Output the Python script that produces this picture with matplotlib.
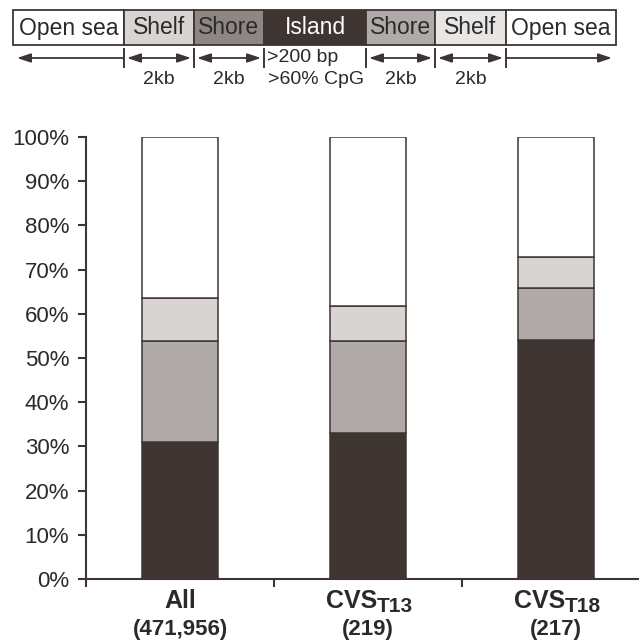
import matplotlib
matplotlib.use('Agg')
import matplotlib.pyplot as plt
import matplotlib.transforms as mtransforms
from matplotlib.patches import Rectangle, FancyArrowPatch

plt.rcParams['font.family'] = ['Liberation Sans', 'DejaVu Sans']

# stacked shares (%) per group, bottom to top
categories = ['All', 'CVS', 'CVS']
subscripts = ['', 'T13', 'T18']
counts = ['(471,956)', '(219)', '(217)']
island = [31.0, 33.0, 54.0]
shore = [22.8, 20.8, 11.8]
shelf = [9.8, 8.0, 7.0]
open_sea = [36.4, 38.2, 27.2]
yticks = [0, 10, 20, 30, 40, 50, 60, 70, 80, 90, 100]

# schematic of regions around a CpG island
regions = ['Open sea', 'Shelf', 'Shore', 'Island', 'Shore', 'Shelf', 'Open sea']
region_colors = ['#FFFFFF', '#D8D4D1', '#8E8682', '#3E3532', '#B0ABA8', '#E8E6E4', '#FFFFFF']

DARK = '#3E3532'
W, H = 639, 640

fig = plt.figure(figsize=(W / 100, H / 100), dpi=100)

# --- top diagram, drawn in pixel coordinates ---
top = fig.add_axes([0, 0, 1, 1])
top.set_xlim(0, W)
top.set_ylim(H, 0)
top.axis('off')

edges = [13, 124, 194, 264, 366, 435, 506, 616]
for i, name in enumerate(regions):
    x0, x1 = edges[i], edges[i + 1]
    top.add_patch(Rectangle((x0, 10), x1 - x0, 35, facecolor=region_colors[i],
                            edgecolor=DARK, lw=1.3))
    tc = 'white' if name == 'Island' else '#2a2a2a'
    top.text((x0 + x1) / 2, 28, name, ha='center', va='center', fontsize=16.5, color=tc)

ya = 58
for x in [124, 194, 264, 366, 435, 506]:
    top.plot([x, x], [49, 67], color=DARK, lw=1.4)

def arrow(x0, x1, style):
    top.add_patch(FancyArrowPatch((x0, ya), (x1, ya), arrowstyle=style,
                                  mutation_scale=9, color=DARK, lw=1.3,
                                  shrinkA=0, shrinkB=0))

arrow(124, 17, '-|>,head_length=0.9,head_width=0.3')
arrow(506, 612, '-|>,head_length=0.9,head_width=0.3')
for a, b in [(124, 194), (194, 264), (366, 435), (435, 506)]:
    arrow(a + 3, b - 3, '<|-|>,head_length=0.9,head_width=0.3')
    top.text((a + b) / 2, 80, '2kb', ha='center', va='center', fontsize=14, color='#2a2a2a')
top.text(267, 58, '>200 bp', ha='left', va='center', fontsize=14, color='#2a2a2a')
top.text(268, 80, '>60% CpG', ha='left', va='center', fontsize=14, color='#2a2a2a')

# --- stacked bar chart ---
ax = fig.add_axes([86 / W, (H - 579) / H, (650 - 86) / W, (579 - 137) / H])
ax.patch.set_alpha(0)

x = range(len(categories))
bw = 0.4
bottom = [0, 0, 0]
for vals, col in [(island, DARK), (shore, '#B0ABA8'), (shelf, '#D8D4D1'), (open_sea, '#FFFFFF')]:
    ax.bar(x, vals, bw, bottom=bottom, color=col, edgecolor=DARK, linewidth=1.1)
    bottom = [b + v for b, v in zip(bottom, vals)]

ax.set_xlim(-0.5, 2.5)
ax.set_ylim(0, 100)
ax.set_yticks(yticks)
ax.set_yticklabels([f'{t}%' for t in yticks])
ax.set_xticks([-0.5, 0.5, 1.5, 2.5])
ax.set_xticklabels([])
ax.tick_params(axis='both', direction='out', length=6, width=1.5, color=DARK)
ax.tick_params(axis='y', labelsize=16, labelcolor='#2a2a2a', pad=6)
for s in ['top', 'right']:
    ax.spines[s].set_visible(False)
for s in ['left', 'bottom']:
    ax.spines[s].set_color(DARK)
    ax.spines[s].set_linewidth(1.5)

# category labels with subscripts
trans = ax.get_xaxis_transform()
for i, (name, sub, n) in enumerate(zip(categories, subscripts, counts)):
    if sub:
        t1 = mtransforms.offset_copy(trans, fig=fig, x=9, y=0, units='dots')
        ax.text(i, -22 / 442, name, transform=t1, ha='right', va='center',
                fontsize=18, fontweight='bold', color='#2a2a2a')
        t2 = mtransforms.offset_copy(trans, fig=fig, x=9, y=-5, units='dots')
        ax.text(i, -22 / 442, sub, transform=t2, ha='left', va='center',
                fontsize=15, fontweight='bold', color='#2a2a2a')
    else:
        ax.text(i, -22 / 442, name, transform=trans, ha='center', va='center',
                fontsize=18, fontweight='bold', color='#2a2a2a')
    ax.text(i, -50 / 442, n, transform=trans, ha='center', va='center',
            fontsize=16, fontweight='bold', color='#2a2a2a')

fig.savefig('out.png', dpi=100)
